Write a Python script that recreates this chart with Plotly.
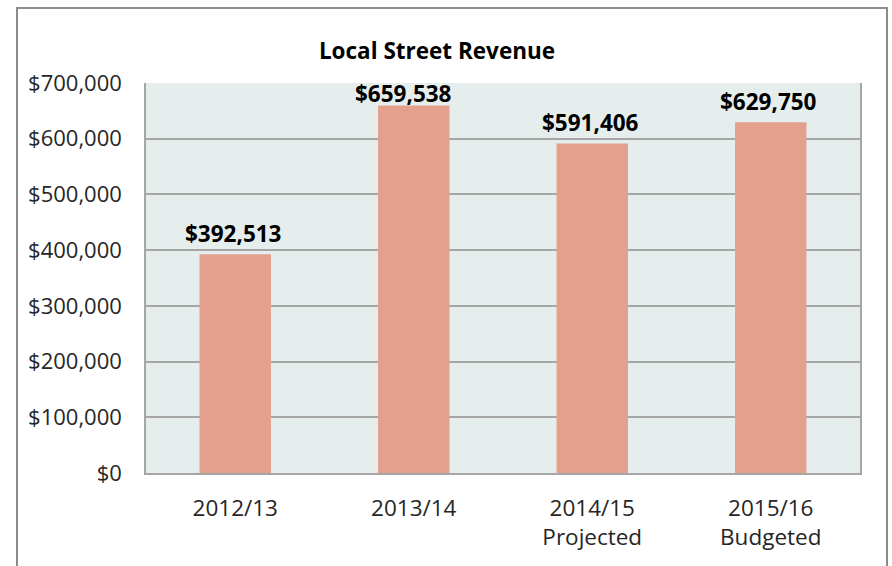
import plotly.graph_objects as go

categories = ["2012/13", "2013/14", "2014/15<br>Projected", "2015/16<br>Budgeted"]
values = [392513, 659538, 591406, 629750]
value_labels = ["$392,513", "$659,538", "$591,406", "$629,750"]
tick_vals = [0, 100000, 200000, 300000, 400000, 500000, 600000, 700000]
tick_text = ["$0", "$100,000", "$200,000", "$300,000", "$400,000", "$500,000", "$600,000", "$700,000"]

FONT = "'Open Sans', Lato, sans-serif"
TXT = "#262626"

fig = go.Figure(go.Bar(
    x=categories, y=values,
    marker=dict(color="#E3A08F", line=dict(width=0)),
    hoverinfo="x+y",
))

W, H = 892, 566
L, R, T, B = 146, 32, 83, 93
pw, ph = W - L - R, H - T - B

# data labels placed above bars (the tallest one is nudged down/left to stay inside the chart, as in the original)
annotations = []
for i, (c, v, t) in enumerate(zip(categories, values, value_labels)):
    crowded = v == max(values)
    annotations.append(dict(
        x=c, y=v, xref="x", yref="y", text="<b>" + t + "</b>", showarrow=False,
        yanchor="middle", xanchor="center",
        yshift=12 if crowded else 21, xshift=-10 if crowded else -2,
        font=dict(family=FONT, size=22.5, color="#000000"),
    ))

fig.update_layout(
    width=W, height=H,
    margin=dict(l=L, r=R, t=T, b=B, autoexpand=False),
    paper_bgcolor="white", plot_bgcolor="#E6EEED",
    bargap=0.6,
    showlegend=False,
    title=dict(text="<b>Local Street Revenue</b>", x=(437) / W, xanchor="center",
               y=1 - 51 / H, yanchor="middle",
               font=dict(family=FONT, size=22.5, color="#000000")),
    font=dict(family=FONT, size=22, color=TXT),
    xaxis=dict(showgrid=False, showline=True, linecolor="#A6A6A6", linewidth=2,
               mirror=False, ticks="", tickfont=dict(size=22.5, color=TXT), automargin=False,
               ticklabelstandoff=14),
    yaxis=dict(range=[0, 700000], tickvals=tick_vals, ticktext=tick_text,
               showgrid=True, gridcolor="#A6A6A6", gridwidth=1.5,
               showline=True, linecolor="#A6A6A6", linewidth=1.5, mirror=True,
               zeroline=False, ticks="", ticklen=0, tickfont=dict(size=22, color=TXT),
               automargin=False, ticklabelstandoff=18),
    annotations=annotations,
    shapes=[dict(type="rect", xref="paper", yref="paper",
                 x0=(17 - L) / pw, x1=(887 - L) / pw,
                 y0=-(B + 20) / ph, y1=(H - B - 8) / ph,
                 line=dict(color="#8C8C8C", width=2), fillcolor="rgba(0,0,0,0)", layer="below")],
)

fig.write_html("out.html", config={"displayModeBar": False})
with open("out.html", encoding="utf-8") as f:
    html = f.read()
html = html.replace("<head>", "<head><style>html,body{margin:0;padding:0;overflow:hidden}</style>", 1)
with open("out.html", "w", encoding="utf-8") as f:
    f.write(html)
